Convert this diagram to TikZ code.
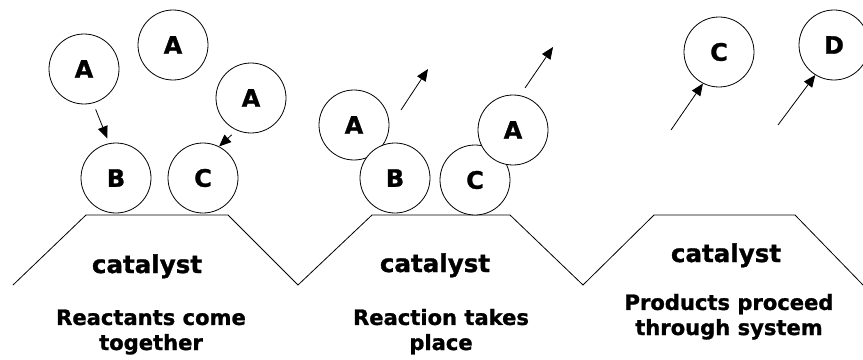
\documentclass[tikz,border=0pt]{standalone}
\usepackage{fontspec}
\setmainfont{DejaVu Sans}[BoldFeatures={FakeBold=1.2}]
\usetikzlibrary{arrows.meta}

\begin{document}
\begin{tikzpicture}[x=0.75pt,y=-0.75pt,
    line width=0.6pt,
    mol/.style={circle,draw,fill=white,minimum size=52.5pt,inner sep=0pt,
        font=\fontsize{18}{20}\selectfont\bfseries},
    cattext/.style={anchor=base,font=\fontsize{18.4}{22}\selectfont\bfseries},
    steptext/.style={anchor=base,align=center,font=\fontsize{15.8}{18.8}\selectfont\bfseries},
    arr/.style={-{Triangle[length=9pt,width=7.5pt]}}]
    \useasboundingbox (0,0) rectangle (863,360);
    \draw
        (13,285) -- (86,215) -- (228,215) -- (298,285) -- (372,215) -- (510,215)
        -- (583,285) -- (654,215) -- (795,215) -- (863,285);
    % reactants come together
    \node[mol] (a1) at (84,69) {A};
    \node[mol] (a2) at (173,45) {A};
    \node[mol] (a3) at (251,98) {A};
    \node[mol] (b1) at (116,178) {B};
    \node[mol] (c1) at (203,178) {C};
    \draw[arr,shorten <=5pt,shorten >=4pt] (a1.-75) -- (b1.101);
    \draw[arr,shorten <=5pt] (a3.246) -- (c1.63);
    \node[cattext] (cat1) at (147,273) {catalyst};
    \node[steptext] (lab1) at (151,350) {Reactants come\\together};
    % reaction takes place
    \node[mol] (a4) at (354,125) {A};
    \node[mol] (b2) at (395,178) {B};
    \node[mol] (c2) at (475,180) {C};
    \node[mol] (a5) at (513,130) {A};
    \coordinate (u1) at (401,110);
    \coordinate (v1) at (428,69);
    \coordinate (u2) at (525,88);
    \coordinate (v2) at (553,47);
    \draw[arr] (u1) -- (v1);
    \draw[arr] (u2) -- (v2);
    \node[cattext] (cat2) at (435,272) {catalyst};
    \node[steptext] (lab2) at (441,350) {Reaction takes\\place};
    % products proceed through system
    \node[mol] (c3) at (719,52) {C};
    \node[mol] (d3) at (834,45) {D};
    \coordinate (u3) at (671,130);
    \coordinate (u4) at (778,125);
    \draw[arr] (u3) -- (c3.-117);
    \draw[arr] (u4) -- (d3.-122);
    \node[cattext] (cat3) at (726,262) {catalyst};
    \node[steptext] (lab3) at (729,335) {Products proceed\\through system};
\end{tikzpicture}
\end{document}
